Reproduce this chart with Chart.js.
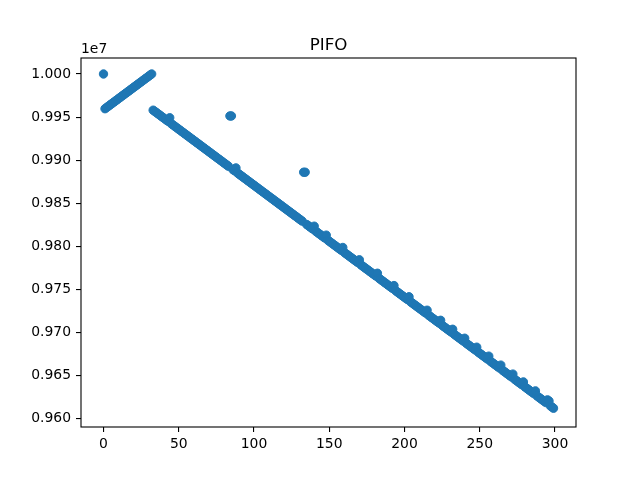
<!DOCTYPE html>
<html>
<head>
<meta charset="utf-8">
<script src="https://cdn.jsdelivr.net/npm/chart.js@4.4.1/dist/chart.umd.min.js"></script>
<style>
  html, body { margin: 0; padding: 0; background: #ffffff; }
  #wrap { width: 640px; height: 480px; }
</style>
</head>
<body>
<div id="wrap"><canvas id="c" width="640" height="480"></canvas></div>
<script>
// ---- data (x = index 0..299) ----
const pifoValues = [
  10000000,
  9959700, 9961000, 9962300, 9963600, 9964900, 9966200, 9967500, 9968800, 9970100, 9971400,
  9972700, 9974000, 9975300, 9976600, 9977900, 9979200, 9980500, 9981800, 9983100, 9984400,
  9985700, 9987000, 9988300, 9989600, 9990900, 9992200, 9993500, 9994800, 9996100, 9997400,
  9998700, 10000000,
  9958000, 9956700, 9955400, 9954100, 9952800, 9951500, 9950200,
  9948900, 9947600, 9946300, 9945000, 9949200, 9942400, 9941100, 9939800, 9938500, 9937200,
  9935900, 9934600, 9933300, 9932000, 9930700, 9929400, 9928100, 9926800, 9925500, 9924200,
  9922900, 9921600, 9920300, 9919000, 9917700, 9916400, 9915100, 9913800, 9912500, 9911200,
  9909900, 9908600, 9907300, 9906000, 9904700, 9903400, 9902100, 9900800, 9899500, 9898200,
  9896900, 9895600, 9894300, 9893000, 9951300, 9951300, 9889100, 9887800, 9891000, 9885200,
  9883900, 9882600, 9881300, 9880000, 9878700, 9877400, 9876100, 9874800, 9873500, 9872200,
  9870900, 9869600, 9868300, 9867000, 9865700, 9864400, 9863100, 9861800, 9860500, 9859200,
  9857900, 9856600, 9855300, 9854000, 9852700, 9851400, 9850100, 9848800, 9847500, 9846200,
  9844900, 9843600, 9842300, 9841000, 9839700, 9838400, 9837100, 9835800, 9834500, 9833200,
  9831900, 9830600, 9829300, 9886000, 9886000, 9825400, 9824100, 9822800, 9821500, 9820200,
  9823400, 9817600, 9816300, 9815000, 9813700, 9812400, 9811100, 9809800, 9813000, 9807200,
  9805900, 9804600, 9803300, 9802000, 9800700, 9799400, 9798100, 9796800, 9795500, 9798700,
  9792900, 9791600, 9790300, 9789000, 9787700, 9786400, 9785100, 9783800, 9782500, 9781200,
  9784400, 9778600, 9777300, 9776000, 9774700, 9773400, 9772100, 9770800, 9769500, 9768200,
  9766900, 9765600, 9768800, 9763000, 9761700, 9760400, 9759100, 9757800, 9756500, 9755200,
  9753900, 9752600, 9751300, 9754500, 9748700, 9747400, 9746100, 9744800, 9743500, 9742200,
  9740900, 9739600, 9738300, 9741500, 9735700, 9734400, 9733100, 9731800, 9730500, 9729200,
  9727900, 9726600, 9725300, 9724000, 9722700, 9725900, 9720100, 9718800, 9717500, 9716200,
  9714900, 9713600, 9712300, 9711000, 9714200, 9708400, 9707100, 9705800, 9704500, 9703200,
  9701900, 9700600, 9703800, 9698000, 9696700, 9695400, 9694100, 9692800, 9691500, 9690200,
  9693400, 9687600, 9686300, 9685000, 9683700, 9682400, 9681100, 9679800, 9683000, 9677200,
  9675900, 9674600, 9673300, 9672000, 9670700, 9669400, 9672600, 9666800, 9665500, 9664200,
  9662900, 9661600, 9660300, 9659000, 9662200, 9656400, 9655100, 9653800, 9652500, 9651200,
  9649900, 9648600, 9651800, 9646000, 9644700, 9643400, 9642100, 9640800, 9639500, 9642700,
  9636900, 9635600, 9634300, 9633000, 9631700, 9630400, 9629100, 9632300, 9626500, 9625200,
  9623900, 9622600, 9621300, 9620000, 9618700, 9621900, 9620600, 9614800, 9613500, 9612200
];
const xTickValues = [0, 50, 100, 150, 200, 250, 300];
const yTickValues = [9600000, 9650000, 9700000, 9750000, 9800000, 9850000, 9900000, 9950000, 10000000];
const chartTitle = 'PIFO';
const offsetLabel = '1e7';

// ---- build ----
const points = pifoValues.map((v, i) => ({ x: i, y: v }));
const FONT = "'DejaVu Sans', 'Liberation Sans', sans-serif";
const BLUE = '#1f77b4';

const framePlugin = {
  id: 'frame',
  afterDraw(chart) {
    const { ctx, chartArea: a } = chart;
    ctx.save();
    ctx.strokeStyle = '#000';
    ctx.lineWidth = 1.1;
    ctx.strokeRect(a.left, a.top, a.right - a.left, a.bottom - a.top);
    ctx.fillStyle = '#000';
    ctx.font = '16.7px ' + FONT;
    ctx.textAlign = 'center';
    ctx.textBaseline = 'alphabetic';
    ctx.fillText(chartTitle, (a.left + a.right) / 2, a.top - 8.5);
    ctx.font = '13.9px ' + FONT;
    ctx.textAlign = 'left';
    ctx.fillText(offsetLabel, a.left, a.top - 5);
    ctx.restore();
  }
};

new Chart(document.getElementById('c'), {
  type: 'scatter',
  data: {
    datasets: [{
      data: points,
      backgroundColor: BLUE,
      borderColor: BLUE,
      borderWidth: 1,
      pointRadius: 4.2,
      pointHoverRadius: 4.2
    }]
  },
  options: {
    responsive: false,
    animation: false,
    devicePixelRatio: 1,
    layout: { padding: { top: 58, right: 64, bottom: 0, left: 0 } },
    plugins: {
      legend: { display: false },
      title: { display: false },
      tooltip: { enabled: false }
    },
    scales: {
      x: {
        type: 'linear',
        min: -14.95,
        max: 313.95,
        afterBuildTicks(scale) { scale.ticks = xTickValues.map(v => ({ value: v })); },
        afterFit(scale) { scale.height = 53; },
        grid: { drawOnChartArea: false, drawTicks: true, tickLength: 5, color: '#000', lineWidth: 1.1 },
        border: { display: false },
        ticks: {
          color: '#000',
          font: { family: FONT, size: 13.9 },
          padding: 4,
          maxRotation: 0,
          callback: v => String(v)
        }
      },
      y: {
        type: 'linear',
        min: 9590400,
        max: 10018550,
        afterBuildTicks(scale) { scale.ticks = yTickValues.map(v => ({ value: v })); },
        afterFit(scale) { scale.width = 81; },
        grid: { drawOnChartArea: false, drawTicks: true, tickLength: 5, color: '#000', lineWidth: 1.1 },
        border: { display: false },
        ticks: {
          color: '#000',
          font: { family: FONT, size: 13.9 },
          padding: 5,
          callback: v => (v / 1e7).toFixed(3)
        }
      }
    }
  },
  plugins: [framePlugin]
});
</script>
</body>
</html>
